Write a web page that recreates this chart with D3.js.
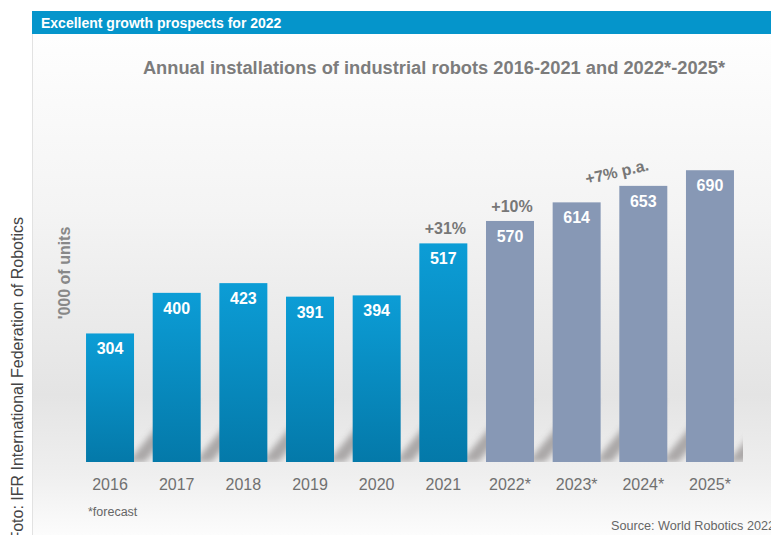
<!DOCTYPE html>
<html>
<head>
<meta charset="utf-8">
<script src="https://cdn.jsdelivr.net/npm/d3@7"></script>
<style>
  body { margin: 0; background: #fff; }
  svg { display: block; font-family: "Liberation Sans", Arial, sans-serif; }
</style>
</head>
<body>
<div id="chart"></div>
<script>
// chart data
var years = ["2016", "2017", "2018", "2019", "2020", "2021", "2022*", "2023*", "2024*", "2025*"];
var installs = [304, 400, 423, 391, 394, 517, 570, 614, 653, 690];
var forecast = [false, false, false, false, false, false, true, true, true, true];
var growthYears = ["2021", "2022*"];
var growthText = ["+31%", "+10%"];
var paText = "+7% p.a.";

var width = 771;
var height = 535;
var base = 462;

var svg = d3.select("#chart")
    .append("svg")
    .attr("width", width)
    .attr("height", height);

var defs = svg.append("defs");

// panel background
var bg = defs.append("linearGradient")
    .attr("id", "bg")
    .attr("x1", 0).attr("y1", 0).attr("x2", 0).attr("y2", 1);
bg.append("stop").attr("offset", "0%").attr("stop-color", "#fefefe");
bg.append("stop").attr("offset", "35%").attr("stop-color", "#f4f4f4");
bg.append("stop").attr("offset", "72%").attr("stop-color", "#e4e4e4");
bg.append("stop").attr("offset", "88%").attr("stop-color", "#efefef");
bg.append("stop").attr("offset", "100%").attr("stop-color", "#fcfcfc");

var blue = defs.append("linearGradient")
    .attr("id", "blue")
    .attr("x1", 0).attr("y1", 0).attr("x2", 0).attr("y2", 1);
blue.append("stop").attr("offset", "0%").attr("stop-color", "#0c9dd6");
blue.append("stop").attr("offset", "100%").attr("stop-color", "#0479a9");

defs.append("filter")
    .attr("id", "blur")
    .attr("x", "-50%").attr("y", "-50%").attr("width", "200%").attr("height", "200%")
    .append("feGaussianBlur")
    .attr("stdDeviation", 3);

defs.append("clipPath")
    .attr("id", "floor")
    .append("rect")
    .attr("x", 0).attr("y", 398)
    .attr("width", 743).attr("height", base - 398);

svg.append("rect")
    .attr("x", 32).attr("y", 34)
    .attr("width", width - 32).attr("height", height - 34)
    .attr("fill", "url(#bg)");
svg.append("line")
    .attr("x1", 32.5).attr("x2", 32.5)
    .attr("y1", 34).attr("y2", height)
    .attr("stroke", "#e2e2e2");

// header bar
svg.append("rect")
    .attr("x", 32).attr("y", 11)
    .attr("width", width - 32).attr("height", 23)
    .attr("fill", "#0595cb");
svg.append("text")
    .attr("x", 41).attr("y", 28)
    .attr("fill", "#fff")
    .attr("font-size", 14)
    .attr("font-weight", "bold")
    .text("Excellent growth prospects for 2022");

svg.append("text")
    .attr("x", 434).attr("y", 74)
    .attr("text-anchor", "middle")
    .attr("fill", "#7c7c7c")
    .attr("font-size", 18.3)
    .attr("font-weight", "bold")
    .text("Annual installations of industrial robots 2016-2021 and 2022*-2025*");

// scales
var x = d3.scaleBand()
    .domain(years)
    .range([76.7, 743.3])
    .paddingInner(0.28)
    .paddingOuter(0.14);
var y = d3.scaleLinear()
    .domain([0, 700])
    .range([base, 166]);

var data = years.map(function (d, i) {
    return { year: d, value: installs[i], forecast: forecast[i] };
});

// shadows cast behind the bars
var dy = base - 398;
svg.append("g")
    .attr("clip-path", "url(#floor)")
    .selectAll("path")
    .data(data)
    .enter()
    .append("path")
    .attr("d", function (d) {
        var x1 = x(d.year) + x.bandwidth();
        return "M" + (x1 - 6) + "," + base +
            "L" + (x1 + 11) + "," + base +
            "L" + (x1 + 11 + 53) + "," + (base - dy) +
            "L" + (x1 - 6 + 53) + "," + (base - dy) + "Z";
    })
    .attr("fill", "#9a9696")
    .attr("opacity", 0.8)
    .attr("filter", "url(#blur)");

// bars
svg.append("g")
    .selectAll("rect")
    .data(data)
    .enter()
    .append("rect")
    .attr("x", function (d) { return x(d.year); })
    .attr("y", function (d) { return y(d.value); })
    .attr("width", x.bandwidth())
    .attr("height", function (d) { return base - y(d.value); })
    .attr("fill", function (d) { return d.forecast ? "#8798b5" : "url(#blue)"; });

// value labels
svg.append("g")
    .selectAll("text")
    .data(data)
    .enter()
    .append("text")
    .attr("x", function (d) { return x(d.year) + x.bandwidth() / 2; })
    .attr("y", function (d) { return y(d.value) + 21; })
    .attr("text-anchor", "middle")
    .attr("fill", "#fff")
    .attr("font-size", 16)
    .attr("font-weight", "bold")
    .text(function (d) { return d.value; });

// year labels
svg.append("g")
    .selectAll("text")
    .data(years)
    .enter()
    .append("text")
    .attr("x", function (d) { return x(d) + x.bandwidth() / 2; })
    .attr("y", 490)
    .attr("text-anchor", "middle")
    .attr("fill", "#707070")
    .attr("font-size", 16)
    .text(function (d) { return d; });

// growth annotations
svg.append("g")
    .selectAll("text")
    .data(growthYears)
    .enter()
    .append("text")
    .attr("x", function (d) { return x(d) + x.bandwidth() / 2 + 2; })
    .attr("y", function (d) { return y(installs[years.indexOf(d)]) - 9; })
    .attr("text-anchor", "middle")
    .attr("fill", "#777")
    .attr("font-size", 16)
    .attr("font-weight", "bold")
    .text(function (d, i) { return growthText[i]; });

var paX = (x("2023*") + x("2024*")) / 2 + x.bandwidth() / 2 + 7;
svg.append("text")
    .attr("transform", "translate(" + paX + "," + (y(653) - 14) + ") rotate(-13)")
    .attr("dy", "0.35em")
    .attr("text-anchor", "middle")
    .attr("fill", "#777")
    .attr("font-size", 16)
    .attr("font-weight", "bold")
    .text(paText);

// axis title
svg.append("text")
    .attr("transform", "translate(64,273) rotate(-90)")
    .attr("dy", "0.35em")
    .attr("text-anchor", "middle")
    .attr("fill", "#888")
    .attr("font-size", 16)
    .attr("font-weight", "bold")
    .text("'000 of units");

// footnotes
svg.append("text")
    .attr("x", 88).attr("y", 516)
    .attr("fill", "#666")
    .attr("font-size", 12.5)
    .text("*forecast");
svg.append("text")
    .attr("x", 611).attr("y", 530)
    .attr("fill", "#666")
    .attr("font-size", 13)
    .attr("textLength", 164)
    .attr("lengthAdjust", "spacingAndGlyphs")
    .text("Source: World Robotics 2022");

svg.append("text")
    .attr("transform", "translate(23,217) rotate(-90)")
    .attr("text-anchor", "end")
    .attr("fill", "#444")
    .attr("font-size", 16)
    .text("Foto: IFR International Federation of Robotics");
</script>
</body>
</html>
